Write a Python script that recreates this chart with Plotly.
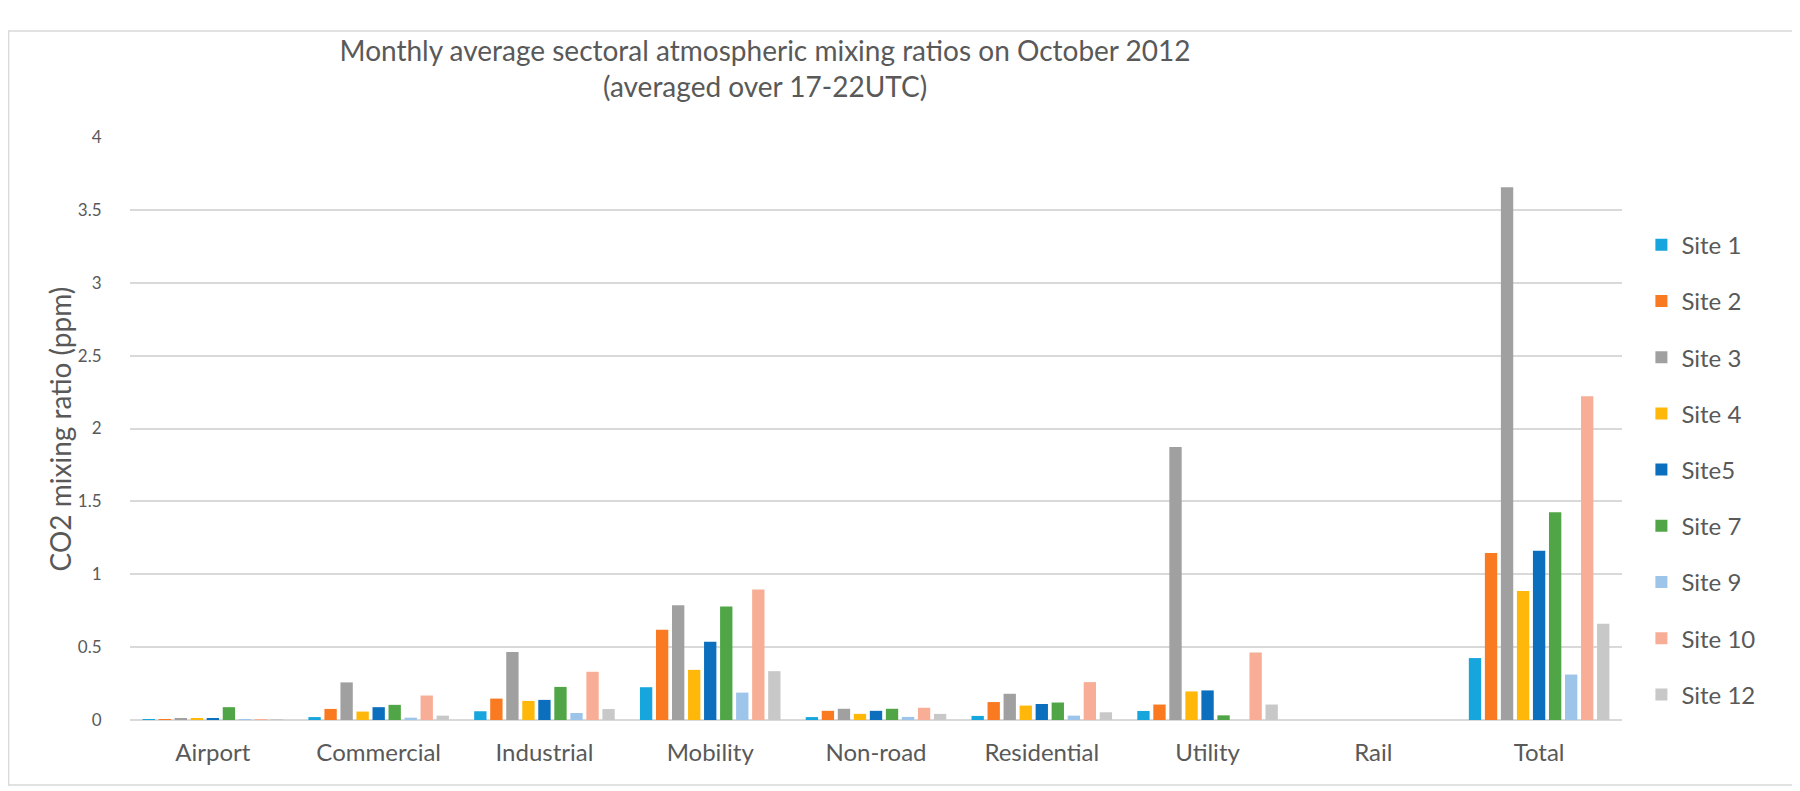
import plotly.graph_objects as go

# Sektoren (x-Achse)
categories = ["Airport", "Commercial", "Industrial", "Mobility", "Non-road",
              "Residential", "Utility", "Rail", "Total"]

# Mittlere CO2-Mischungsverhältnisse (ppm) je Messstation
site_names = ["Site 1", "Site 2", "Site 3", "Site 4", "Site5",
              "Site 7", "Site 9", "Site 10", "Site 12"]
site_1 = [0.004, 0.02, 0.06, 0.225, 0.02, 0.028, 0.062, 0, 0.425]
site_2 = [0.004, 0.076, 0.147, 0.62, 0.063, 0.123, 0.106, 0, 1.145]
site_3 = [0.008, 0.258, 0.467, 0.788, 0.077, 0.18, 1.873, 0, 3.655]
site_4 = [0.012, 0.058, 0.131, 0.344, 0.042, 0.099, 0.196, 0, 0.885]
site_5 = [0.01, 0.088, 0.138, 0.537, 0.063, 0.11, 0.203, 0, 1.162]
site_7 = [0.088, 0.104, 0.227, 0.779, 0.077, 0.12, 0.032, 0, 1.425]
site_9 = [0.003, 0.016, 0.048, 0.188, 0.021, 0.03, 0.0, 0, 0.312]
site_10 = [0.003, 0.168, 0.331, 0.895, 0.084, 0.26, 0.463, 0, 2.221]
site_12 = [0.003, 0.03, 0.075, 0.335, 0.042, 0.053, 0.106, 0, 0.661]

site_values = [site_1, site_2, site_3, site_4, site_5, site_7, site_9, site_10, site_12]
colors = ["#17a5de", "#f97a20", "#a0a0a0", "#ffb80a", "#0b6fbe",
          "#50a646", "#9dc5ea", "#f8ae96", "#c8c8c8"]

text_grey = "#595959"
font_name = "Lato"

fig = go.Figure()
for name, vals, col in zip(site_names, site_values, colors):
    # eigene legendgroup pro Station, damit tracegroupgap den Abstand setzt
    fig.add_bar(x=categories, y=vals, name=name, marker_color=col,
                marker_line_width=0, legendgroup=name)

fig.update_layout(
    width=1800, height=791,
    paper_bgcolor="white", plot_bgcolor="white",
    margin=dict(l=122, r=186, t=129, b=79),
    font=dict(family=font_name, color=text_grey),
    barmode="group", bargap=0.13, bargroupgap=0.23,
    title=dict(
        text="Monthly average sectoral atmospheric mixing ratios on October 2012<br>(averaged over 17-22UTC)",
        x=0.4206, xanchor="center", y=0.933, yanchor="middle",
        font=dict(size=28, color=text_grey, family=font_name),
    ),
    legend=dict(x=1.013, xanchor="left", y=0.853, yanchor="top",
                font=dict(size=24, color=text_grey), tracegroupgap=22,
                itemwidth=30),
    showlegend=True,
)

fig.update_xaxes(showgrid=False, showline=False, ticks="",
                 tickfont=dict(size=24, color=text_grey), ticklabelstandoff=16)
# unsichtbare Ticks schieben die Zahlen etwas von der Achse weg
fig.update_yaxes(range=[0, 4], dtick=0.5, showgrid=True, gridcolor="#d9d9d9",
                 gridwidth=1.5, zeroline=True, zerolinecolor="#d9d9d9",
                 zerolinewidth=1.5, showline=False, ticks="outside",
                 ticklen=24, tickcolor="rgba(0,0,0,0)",
                 tickfont=dict(size=17, color=text_grey))

# y-Achsentitel als Annotation, damit er naeher an den Zahlen sitzt
fig.add_annotation(text="CO2 mixing ratio (ppm)", textangle=-90,
                   xref="paper", yref="paper", x=-0.047, y=0.5,
                   xanchor="center", yanchor="middle", showarrow=False,
                   font=dict(size=28, color=text_grey))

# Rahmen um das ganze Diagramm
fig.add_shape(type="rect", xref="paper", yref="paper",
              x0=-0.0814, x1=1.1146, y0=-0.1115, y1=1.1818,
              line=dict(color="#d9d9d9", width=1.5), layer="below")

fig.write_html("out.html")
